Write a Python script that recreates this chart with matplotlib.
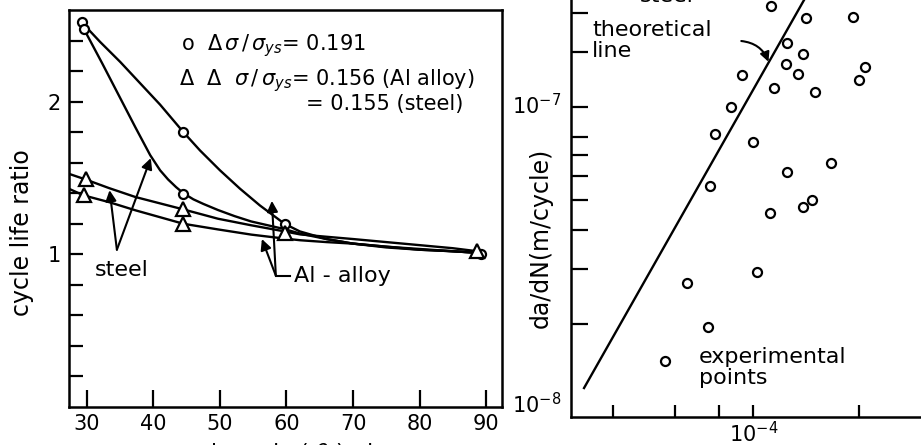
import numpy as np
import matplotlib
matplotlib.use('Agg')
from matplotlib import pyplot as plt
from matplotlib.ticker import NullLocator, NullFormatter

# left panel: cycle life ratio vs crack angle
# measured points
circ_x = [29.2, 29.55, 44.5, 44.5, 59.7, 89.2]
circ_y = [2.52, 2.475, 1.804, 1.397, 1.20, 1.00]
tri_x = [29.8, 29.5, 44.5, 44.5, 59.7, 88.6]
tri_y = [1.49, 1.386, 1.294, 1.20, 1.14, 1.02]

# drawn curves
al191_x = [29.2, 32, 35, 38, 41, 44.5, 47, 50, 53, 56, 59.7, 62, 66, 70, 75, 80, 85, 88.7]
al191_y = [2.52, 2.39, 2.26, 2.12, 1.98, 1.80, 1.68, 1.55, 1.43, 1.32, 1.20, 1.15, 1.10, 1.07, 1.05, 1.03, 1.02, 1.01]
st191_x = [29.55, 32.3, 34.8, 37.3, 39.5, 41.0, 42.2, 43.4, 44.5, 46, 47.5, 49.7, 52.2, 54.7, 57.2, 59.7, 62.1, 66, 70, 75, 80, 85, 88.7]
st191_y = [2.475, 2.25, 2.04, 1.83, 1.65, 1.55, 1.49, 1.44, 1.40, 1.36, 1.33, 1.29, 1.25, 1.215, 1.19, 1.165, 1.135, 1.10, 1.07, 1.045, 1.03, 1.02, 1.01]
st155_x = [27.3, 29.8, 33.3, 37.3, 44.5, 49.7, 54.7, 59.7, 62.1, 66, 70, 75, 80, 85, 88.7]
st155_y = [1.527, 1.49, 1.434, 1.375, 1.294, 1.233, 1.19, 1.15, 1.13, 1.115, 1.10, 1.08, 1.06, 1.04, 1.02]
al156_x = [27.3, 29.5, 33.3, 37.3, 44.5, 49.7, 54.7, 59.7, 62.1, 66, 70, 75, 80, 85, 88.7]
al156_y = [1.429, 1.386, 1.342, 1.288, 1.20, 1.163, 1.129, 1.103, 1.092, 1.08, 1.07, 1.05, 1.035, 1.02, 1.01]

# right panel: da/dN, log-log
exp_x = [1.121e-4, 1.412e-4, 1.921e-4, 1.243e-4, 1.388e-4, 1.235e-4, 1.337e-4, 9.28e-5,
         1.146e-4, 1.499e-4, 2.075e-4, 1.995e-4, 8.65e-5, 7.78e-5, 1.0e-4, 1.662e-4,
         1.243e-4, 7.53e-5, 1.472e-4, 1.388e-4, 1.114e-4, 1.024e-4, 6.46e-5, 7.41e-5]
exp_y = [2.118e-7, 1.932e-7, 1.955e-7, 1.612e-7, 1.483e-7, 1.376e-7, 1.278e-7, 1.265e-7,
         1.154e-7, 1.115e-7, 1.343e-7, 1.216e-7, 9.98e-8, 8.16e-8, 7.73e-8, 6.61e-8,
         6.18e-8, 5.56e-8, 5.01e-8, 4.75e-8, 4.56e-8, 2.94e-8, 2.71e-8, 1.955e-8]
theo_x = [3.3e-5, 1.5e-4]
theo_y = [1.24e-8, 2.56e-7]

plt.rcParams['font.family'] = 'DejaVu Sans'
fig = plt.figure(figsize=(9.21, 4.45), dpi=100)

# ---- left panel
ax = fig.add_axes([69/921, 38/445, 433/921, 397/445])
lw = 1.7
for cx, cy in [(al191_x, al191_y), (st191_x, st191_y), (st155_x, st155_y), (al156_x, al156_y)]:
    ax.plot(cx, cy, 'k-', lw=lw, solid_joinstyle='round')
ax.plot(circ_x, circ_y, 'o', ms=6.5, mfc='white', mec='k', mew=1.6)
ax.plot(tri_x, tri_y, '^', ms=10, mfc='white', mec='k', mew=1.6)
ax.set_xlim(27.3, 92.4)
ax.set_ylim(0, 2.6)
ax.set_xticks([30, 40, 50, 60, 70, 80, 90])
ax.set_yticks([0.2, 0.4, 0.6, 0.8, 1.0, 1.2, 1.4, 1.6, 1.8, 2.0, 2.2, 2.4])
ax.set_yticklabels(['', '', '', '', '1', '', '', '', '', '2', '', ''])
ax.tick_params(axis='x', direction='in', length=12, width=1.6, labelsize=15, pad=5)
ax.tick_params(axis='y', direction='in', length=10, width=1.6, labelsize=15, pad=6)
for s in ax.spines.values():
    s.set_linewidth(1.8)
ax.set_ylabel('cycle life ratio', fontsize=17)
ax.yaxis.set_label_coords(-0.08, 0.44)

ax.text(44.1, 2.366, r'o  $\Delta\,\sigma\,/\,\sigma_{ys}$= 0.191', fontsize=15, va='center')
ax.text(43.9, 2.137, r'$\Delta$  $\Delta$  $\sigma\,/\,\sigma_{ys}$= 0.156 (Al alloy)', fontsize=15, va='center')
ax.text(63.0, 1.987, '= 0.155 (steel)', fontsize=15, va='center')

arr = dict(arrowstyle='-|>', lw=1.5, color='k', mutation_scale=16, shrinkA=0, shrinkB=0)
ax.annotate('', xy=(39.6, 1.63), xytext=(34.5, 1.03), arrowprops=arr)
ax.annotate('', xy=(33.4, 1.42), xytext=(34.5, 1.03), arrowprops=arr)
ax.text(31.2, 0.90, 'steel', fontsize=16, va='center')
ax.annotate('', xy=(57.8, 1.35), xytext=(58.4, 0.86), arrowprops=arr)
ax.annotate('', xy=(56.3, 1.10), xytext=(58.4, 0.86), arrowprops=arr)
ax.plot([58.4, 60.6], [0.86, 0.86], 'k-', lw=1.5)
ax.text(61.2, 0.86, 'Al - alloy', fontsize=16, va='center')

fig.text(300/921, 4/445, r'crack angle ( $\theta$ ), degree', fontsize=16, ha='center', va='top')

# ---- right panel
bx = fig.add_axes([571/921, 28/445, 360/921, 417/445])
bx.set_xscale('log')
bx.set_yscale('log')
bx.plot(theo_x, theo_y, 'k-', lw=1.7)
bx.plot(exp_x, exp_y, 'o', ms=6.5, mfc='white', mec='k', mew=1.6, clip_on=False)
bx.plot([5.61e-5], [1.515e-8], 'o', ms=6.5, mfc='white', mec='k', mew=1.6)
bx.set_xlim(3.03e-5, 3.2e-4)
bx.set_ylim(1e-8, 2.21e-7)
bx.xaxis.set_minor_locator(NullLocator())
bx.yaxis.set_minor_locator(NullLocator())
bx.xaxis.set_minor_formatter(NullFormatter())
bx.yaxis.set_minor_formatter(NullFormatter())
bx.set_xticks([4e-5, 6e-5, 8e-5, 1e-4, 2e-4])
bx.set_xticklabels(['', '', '', r'$10^{-4}$', ''])
bx.set_yticks([2e-8, 3e-8, 4e-8, 5e-8, 6e-8, 7e-8, 8e-8, 1e-7, 1.5e-7, 2e-7])
bx.set_yticklabels([])
bx.tick_params(axis='x', direction='in', length=9, width=1.6, labelsize=15, pad=3)
bx.tick_params(axis='y', direction='in', length=12, width=1.6)
bx.spines['top'].set_visible(False)
bx.spines['right'].set_visible(False)
for s in ['left', 'bottom']:
    bx.spines[s].set_linewidth(1.8)
bx.text(-0.026, 1e-8, r'$10^{-8}$', transform=bx.get_yaxis_transform(), fontsize=15,
        ha='right', va='bottom')
bx.text(-0.026, 1.11e-7, r'$10^{-7}$', transform=bx.get_yaxis_transform(), fontsize=15,
        ha='right', va='top')
bx.set_ylabel('da/dN(m/cycle)', fontsize=17)
bx.yaxis.set_label_coords(-0.05, 0.43)

bx.text(3.48e-5, 1.64e-7, 'theoretical\nline', fontsize=16, va='center', linespacing=1.05)
bx.annotate('', xy=(1.104e-4, 1.397e-7), xytext=(9.24e-5, 1.63e-7),
            arrowprops=dict(arrowstyle='-|>', lw=1.5, color='k', mutation_scale=14,
                            connectionstyle='arc3,rad=-0.3', shrinkA=0, shrinkB=0))
bx.text(7.0e-5, 1.44e-8, 'experimental\npoints', fontsize=16, va='center', linespacing=1.05)
fig.text(667/921, 443/445, 'steel', fontsize=16, ha='center', va='baseline')

fig.savefig('out.png', dpi=100)
